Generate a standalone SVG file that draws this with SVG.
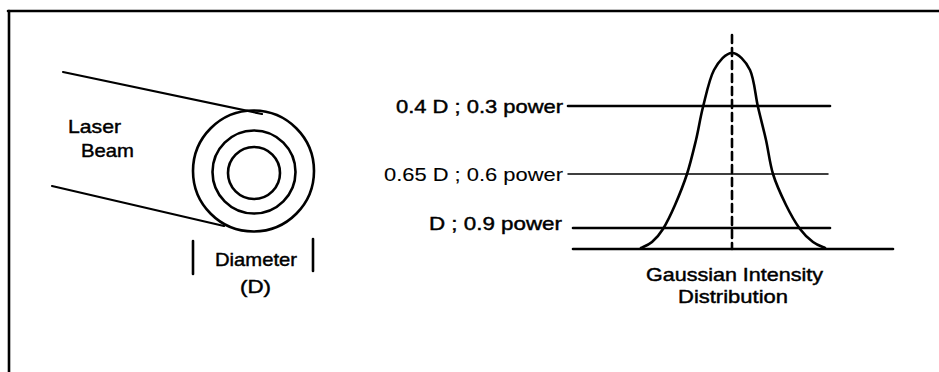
<svg xmlns="http://www.w3.org/2000/svg" width="939" height="372" viewBox="0 0 939 372">
  <style>
    .ln { stroke: #000; fill: none; stroke-linecap: round; }
    .thick { stroke-width: 2.6; }
    .mid { stroke-width: 2.2; }
    .thin { stroke-width: 1.5; }
    .t { font-family: "Liberation Sans", Arial, sans-serif; font-size: 19px; fill: #000; stroke: #000; stroke-width: 0.45; }
    .tl { font-family: "Liberation Sans", Arial, sans-serif; font-size: 19px; fill: #000; stroke: #000; stroke-width: 0.1; }
  </style>
  <rect x="0" y="0" width="939" height="372" fill="#fff"/>

  <g id="frame">
    <line class="ln thick" x1="8" y1="11" x2="939" y2="11" stroke-linecap="butt"/>
    <line class="ln thick" x1="9" y1="11" x2="9" y2="372" stroke-linecap="butt"/>
  </g>

  <g id="laser-beam">
    <line class="ln mid" x1="63" y1="72" x2="262" y2="114"/>
    <line class="ln mid" x1="52" y1="186" x2="224" y2="226"/>
    <circle class="ln thick" cx="253.5" cy="171" r="60.5"/>
    <circle class="ln thick" cx="254" cy="172" r="41.5"/>
    <circle class="ln thick" cx="254" cy="173" r="26"/>
    <text class="t" x="68" y="133" textLength="53" lengthAdjust="spacingAndGlyphs">Laser</text>
    <text class="t" x="81" y="157" textLength="53" lengthAdjust="spacingAndGlyphs">Beam</text>
  </g>

  <g id="diameter">
    <line class="ln thick" x1="193" y1="241" x2="193" y2="274"/>
    <line class="ln thick" x1="313" y1="239" x2="313" y2="271"/>
    <text class="t" x="215" y="266" textLength="82" lengthAdjust="spacingAndGlyphs">Diameter</text>
    <text class="t" x="240" y="293" textLength="31" lengthAdjust="spacingAndGlyphs">(D)</text>
  </g>

  <g id="gaussian">
    <line class="ln thick" x1="732" y1="35" x2="732" y2="249" stroke-dasharray="8 5" stroke-linecap="butt"/>
    <path class="ln thick" d="M 641 248 C 642.8 247, 648.3 245.2, 652 242 C 655.7 238.8, 659.2 235.2, 663 229 C 666.8 222.8, 671 214.2, 675 205 C 679 195.8, 683.5 184.8, 687 174 C 690.5 163.2, 693.3 151.2, 696 140 C 698.7 128.8, 700 118.7, 703 107 C 706 95.3, 709.2 79, 714 70 C 718.8 61, 726 53, 732 53 C 738 53, 745.7 61, 750 70 C 754.3 79, 755.3 95.3, 758 107 C 760.7 118.7, 763.5 128.8, 766 140 C 768.5 151.2, 769.7 163.2, 773 174 C 776.3 184.8, 781.5 195.8, 786 205 C 790.5 214.2, 795.5 222.8, 800 229 C 804.5 235.2, 808.8 238.8, 813 242 C 817.2 245.2, 823 247, 825 248"/>
    <text class="t" x="646" y="281" textLength="177" lengthAdjust="spacingAndGlyphs">Gaussian Intensity</text>
    <text class="t" x="678" y="303" textLength="110" lengthAdjust="spacingAndGlyphs">Distribution</text>
  </g>

  <g id="levels">
    <text class="t" x="396" y="113" textLength="167" lengthAdjust="spacingAndGlyphs">0.4 D ; 0.3 power</text>
    <text class="tl" x="384" y="181" textLength="179" lengthAdjust="spacingAndGlyphs">0.65 D ; 0.6 power</text>
    <text class="t" x="429" y="230" textLength="133" lengthAdjust="spacingAndGlyphs">D ; 0.9 power</text>
  </g>

  <g id="connectors">
    <line class="ln thick" x1="568" y1="106" x2="830" y2="106"/>
    <line class="ln thin" x1="568" y1="174" x2="828" y2="174"/>
    <line class="ln thick" x1="573" y1="228" x2="830" y2="228"/>
    <line class="ln thick" x1="573" y1="249" x2="893" y2="249"/>
  </g>
</svg>
